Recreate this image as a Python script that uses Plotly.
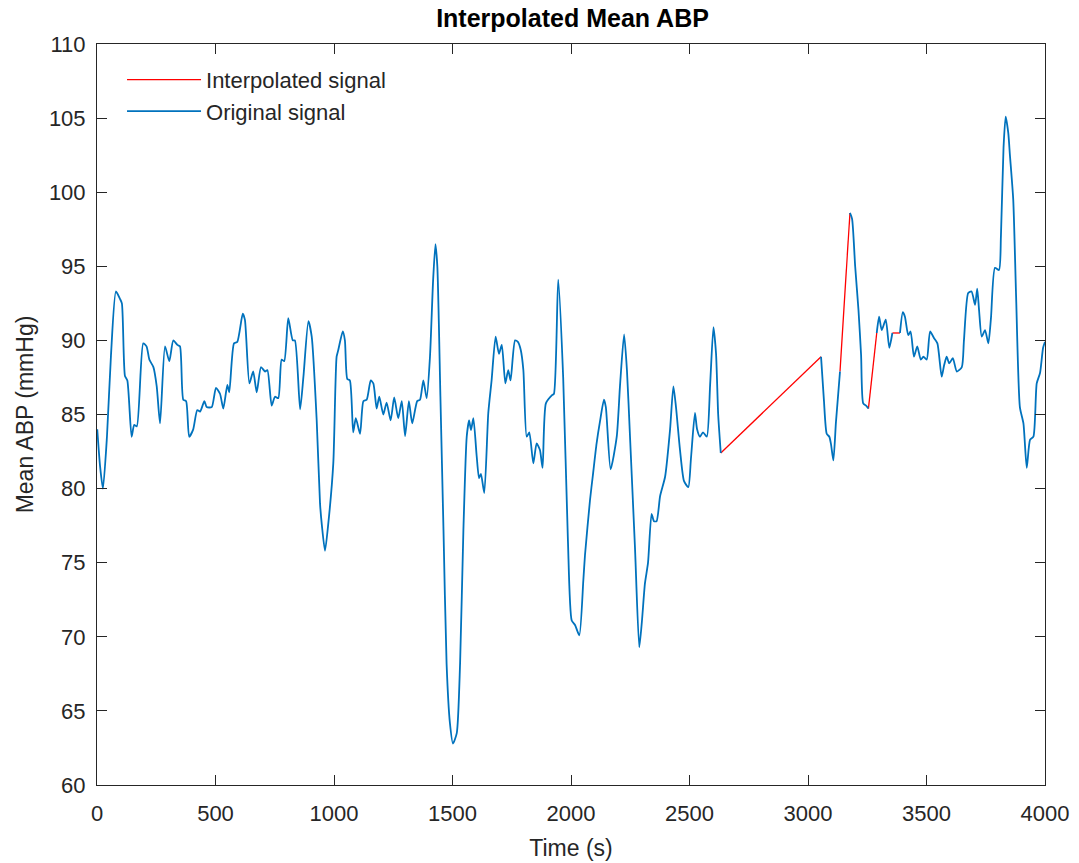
import plotly.graph_objects as go

# Original signal (time in s, mean ABP in mmHg); None marks gaps that were interpolated
orig_t = [1, 13, 25, 42, 59, 80, 97, 105, 118, 128, 146, 157, 168, 195, 209, 221, 238, 252, 266,
          287, 305, 322, 339, 350, 364, 376, 389, 406, 423, 435, 453, 463, 484, 502, 519, 533,
          550, 558, 578, 592, 615, 624, 643, 659, 674, 692, 709, 719, 737, 751, 765, 779, 790,
          807, 826, 835, 857, 871, 892, 906, 927, 941, 949, 962, 975, 997, 1011, 1018, 1037,
          1046, 1056, 1067, 1081, 1092, 1110, 1124, 1138, 1155, 1166, 1180, 1191, 1208, 1222,
          1239, 1254, 1271, 1286, 1300, 1316, 1330, 1351, 1363, 1377, 1391, 1405, 1418, 1428,
          1436, 1449, 1462, 1475, 1489, 1502, 1518, 1532, 1546, 1560, 1570, 1578, 1588, 1602,
          1612, 1620, 1634, 1651, 1665, 1682, 1696, 1708, 1723, 1735, 1745, 1764, 1776, 1788,
          1799, 1813, 1824, 1841, 1855, 1869, 1880, 1894, 1920, 1928, 1946, 1967, 1987, 2003,
          2017, 2035, 2052, 2059, 2080, 2093, 2108, 2122, 2139, 2147, 2167, 2193, 2207, 2224,
          2236, 2249, 2270, 2288, 2299, 2312, 2325, 2340, 2350, 2361, 2376, 2397, 2418, 2432,
          2443, 2460, 2477, 2495, 2506, 2523, 2532, 2544, 2557, 2573, 2587, 2601, 2612, 2621,
          2632,
          None,
          3055, 3067, 3079, 3090, 3097, 3107, 3118, 3135,
          None,
          3177, 3186, 3199, 3213, 3224, 3233, 3245, 3255,
          None,
          3290, 3300, 3311, 3328, 3343, 3356,
          None,
          3388, 3400, 3409, 3423, 3433, 3447, 3461, 3476, 3487, 3501, 3515, 3532, 3546, 3564,
          3574, 3585, 3596, 3611, 3628, 3649, 3658, 3676, 3690, 3705, 3714, 3722, 3733, 3747,
          3761, 3772, 3789, 3806, 3814, 3825, 3834, 3845, 3852, 3866, 3878, 3894, 3909, 3923,
          3937, 3951, 3965, 3979, 3992, 4000]
orig_y = [84.0, 81.5, 80.0, 83.5, 89.0, 93.3, 92.8, 92.5, 87.6, 87.3, 83.5, 84.3, 84.2, 89.8, 89.6,
          88.7, 88.2, 86.9, 84.4, 89.6, 88.6, 90.0, 89.7, 89.6, 86.0, 85.9, 83.5, 84.0, 85.3,
          85.2, 85.9, 85.5, 85.5, 86.8, 86.4, 85.4, 87.0, 86.5, 89.8, 89.9, 91.8, 91.4, 87.1,
          87.9, 86.5, 88.2, 87.9, 88.0, 85.6, 86.2, 86.1, 88.7, 88.6, 91.5, 90.0, 90.0, 85.35,
          87.55, 91.3, 90.25, 84.6, 79.0, 77.5, 75.8, 77.5, 81.7, 88.9, 89.35, 90.6, 90.0, 87.4,
          87.3, 83.8, 84.75, 83.7, 85.9, 86.0, 87.3, 87.1, 85.4, 86.2, 85.0, 85.8, 84.6, 86.15,
          84.75, 85.9, 83.55, 85.9, 84.4, 85.9, 86.0, 87.3, 86.1, 88.9, 94.0, 96.5, 95.0, 86.2,
          77.2, 68.2, 64.2, 62.8, 63.5, 68.2, 77.2, 83.5, 84.6, 83.95, 84.75, 82.2, 80.7, 81.0,
          79.7, 85.1, 87.3, 90.25, 89.1, 89.7, 87.1, 88.0, 87.3, 90.0, 89.9, 89.35, 88.0, 83.5,
          83.8, 81.7, 83.05, 82.6, 81.4, 85.75, 86.3, 86.4, 94.1, 87.5, 76.5, 71.1, 70.8, 70.1,
          73.8, 75.5, 79.2, 81.0, 83.05, 84.5, 86.0, 85.5, 81.3, 83.5, 87.0, 90.4, 88.0, 83.5,
          76.0, 69.3, 71.0, 73.6, 75.0, 78.3, 77.8, 77.8, 79.5, 80.8, 84.0, 86.9, 85.5, 82.6,
          80.5, 80.1, 82.0, 85.1, 84.0, 83.5, 83.8, 83.5, 87.0, 90.9, 89.1, 85.0, 82.4,
          None,
          88.9, 86.0, 83.7, 83.5, 83.0, 81.9, 84.5, 87.9,
          None,
          98.6, 98.2, 95.0, 92.05, 89.0, 85.75, 85.6, 85.4,
          None,
          90.5, 91.6, 90.7, 91.4, 89.5, 90.5,
          None,
          90.5, 91.9, 91.6, 90.35, 90.6, 88.9, 89.6, 88.7, 88.9, 88.7, 90.6, 90.15, 89.8, 87.55,
          88.3, 88.9, 88.45, 88.8, 87.9, 88.2, 90.0, 93.2, 93.3, 92.4, 93.5, 92.0, 90.25, 90.7,
          89.8, 91.5, 94.9, 94.75, 97.0, 103.0, 105.1, 104.0, 102.5, 99.5, 93.0, 85.5, 84.4,
          81.4, 83.3, 83.5, 87.1, 87.8, 89.5, 89.9]

# Interpolated segments bridging the gaps
interp_t = [2632, 3055, None, 3135, 3177, None, 3255, 3290, None, 3356, 3388]
interp_y = [82.4, 88.9, None, 87.9, 98.6, None, 85.4, 90.5, None, 90.5, 90.5]

x_ticks = [0, 500, 1000, 1500, 2000, 2500, 3000, 3500, 4000]
y_ticks = [60, 65, 70, 75, 80, 85, 90, 95, 100, 105, 110]

FONT = "Liberation Sans, Arial, Helvetica, sans-serif"
AX = "#262626"

fig = go.Figure()
fig.add_trace(go.Scatter(x=interp_t, y=interp_y, mode="lines", name="Interpolated signal",
                         line=dict(color="#FF0000", width=1.3), connectgaps=False))
fig.add_trace(go.Scatter(x=orig_t, y=orig_y, mode="lines", name="Original signal",
                         line=dict(color="#0072BD", width=1.8, shape="spline", smoothing=0.6),
                         connectgaps=False))

axis_common = dict(showgrid=False, zeroline=False, showline=True, linecolor=AX, linewidth=1,
                   mirror="ticks", ticks="inside", ticklen=10, tickcolor=AX, tickwidth=1,
                   tickfont=dict(family=FONT, size=22, color=AX), automargin=False)
fig.update_xaxes(range=[0, 4000], tickvals=x_ticks, ticklabelstandoff=9,
                 title=dict(text="Time (s)", font=dict(family=FONT, size=23, color=AX), standoff=14),
                 **axis_common)
fig.update_yaxes(range=[60, 110], tickvals=y_ticks, ticklabelstandoff=6,
                 title=dict(text="Mean ABP (mmHg)", font=dict(family=FONT, size=23, color=AX),
                            standoff=8),
                 **axis_common)

fig.update_layout(
    width=1079, height=863,
    margin=dict(l=97, r=34, t=44, b=78),
    paper_bgcolor="white", plot_bgcolor="white",
    title=dict(text="<b>Interpolated Mean ABP</b>", x=572.5 / 1079, xanchor="center",
               y=1 - 18 / 863, yanchor="middle", yref="container",
               font=dict(family=FONT, size=25, color="black")),
    legend=dict(x=0.0264, y=0.980, xanchor="left", yanchor="top", bgcolor="rgba(0,0,0,0)",
                font=dict(family=FONT, size=22, color=AX), itemwidth=74, tracegroupgap=0),
    showlegend=True,
)

fig.write_html("out.html")
